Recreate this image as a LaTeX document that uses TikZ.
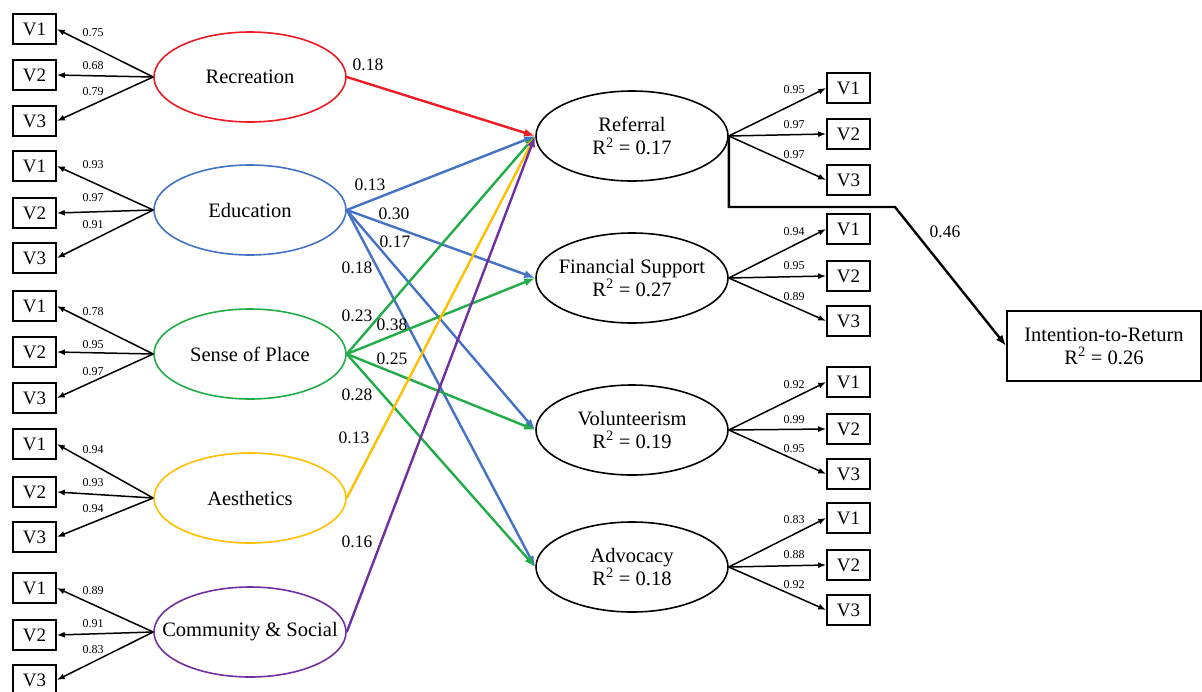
\documentclass[tikz,border=0pt]{standalone}
\usepackage{fontspec}
\setmainfont{Liberation Serif}
\usetikzlibrary{shapes.geometric,arrows.meta}
\definecolor{cred}{RGB}{237,28,36}
\definecolor{cblue}{RGB}{68,114,196}
\definecolor{cgreen}{RGB}{34,172,72}
\definecolor{cyellow}{RGB}{255,192,0}
\definecolor{cpurple}{RGB}{112,48,160}
\begin{document}
\begin{tikzpicture}[x=1pt,y=-1pt,
 lat/.style={ellipse,draw,line width=1.6pt,minimum width=192pt,minimum height=90pt,inner sep=0pt},
 obs/.style={rectangle,draw,line width=1.6pt,minimum width=43pt,minimum height=30pt,inner sep=0pt,font=\fontsize{19}{21}\selectfont},
 load/.style={line width=1.5pt,-{Latex[length=8pt,width=6pt]}},
 struct/.style={line width=2.4pt,-{Latex[length=11pt,width=8pt]}},
 lbl/.style={font=\fontsize{20.5}{23}\selectfont,align=center},
 coef/.style={font=\fontsize{17.5}{20}\selectfont,inner sep=0pt},
 loadlbl/.style={font=\fontsize{12}{14}\selectfont,inner sep=0pt}]
\useasboundingbox (0,0) rectangle (1202,691);
\fill[white] (0,0) rectangle (1202,691);
% left latents
\node[lat,draw=cred,label={[lbl]center:Recreation}] (rec) at (250,77) {};
\node[lat,draw=cblue,label={[lbl]center:Education}] (edu) at (250,210) {};
\node[lat,draw=cgreen,label={[lbl]center:Sense of Place}] (sop) at (250,354) {};
\node[lat,draw=cyellow,label={[lbl]center:Aesthetics}] (aes) at (250,498) {};
\node[lat,draw=cpurple,label={[lbl]center:Community \& Social}] (com) at (250,632) {};
% right latents
\node[lat,label={[lbl]center:Referral\\R\textsuperscript{2} = 0.17}] (ref) at (632,136) {};
\node[lat,label={[lbl]center:Financial Support\\R\textsuperscript{2} = 0.27}] (fin) at (632,278) {};
\node[lat,label={[lbl]center:Volunteerism\\R\textsuperscript{2} = 0.19}] (vol) at (632,430) {};
\node[lat,label={[lbl]center:Advocacy\\R\textsuperscript{2} = 0.18}] (adv) at (632,567) {};
% outcome
\node[draw,line width=1.6pt,minimum width=194pt,minimum height=70pt,inner sep=0pt,lbl] (itr) at (1104,346) {Intention-to-Return\\R\textsuperscript{2} = 0.26};
% left indicators
\foreach \n/\a/\b/\c/\la/\lb/\lc/\ya/\yb/\yc in {
 rec/29/75/121/0.75/0.68/0.79/33/66/92,
 edu/166/213/258/0.93/0.97/0.91/165/198/225,
 sop/306/352/398/0.78/0.95/0.97/312/345/372,
 aes/444/492/537/0.94/0.93/0.94/450/483/509,
 com/588/635/680/0.89/0.91/0.83/591/624/650}{
 \node[obs] (\n1) at (34.5,\a) {V1};
 \node[obs] (\n2) at (34.5,\b) {V2};
 \node[obs] (\n3) at (34.5,\c) {V3};
 \draw[load] (\n.west) -- (\n1.east);
 \draw[load] (\n.west) -- (\n2.east);
 \draw[load] (\n.west) -- (\n3.east);
 \node[loadlbl] (\n l1) at (93,\ya) {\la};
 \node[loadlbl] (\n l2) at (93,\yb) {\lb};
 \node[loadlbl] (\n l3) at (93,\yc) {\lc};
}
% right indicators
\foreach \n/\a/\b/\c/\la/\lb/\lc/\ya/\yb/\yc in {
 ref/88/134/180/0.95/0.97/0.97/90/125/155,
 fin/229/276/321/0.94/0.95/0.89/232/266/297,
 vol/382/429/474/0.92/0.99/0.95/385/420/449,
 adv/518/565/610/0.83/0.88/0.92/520/555/585}{
 \node[obs] (\n1) at (848.5,\a) {V1};
 \node[obs] (\n2) at (848.5,\b) {V2};
 \node[obs] (\n3) at (848.5,\c) {V3};
 \draw[load] (\n.east) -- (\n1.west);
 \draw[load] (\n.east) -- (\n2.west);
 \draw[load] (\n.east) -- (\n3.west);
 \node[loadlbl] (\n l1) at (794,\ya) {\la};
 \node[loadlbl] (\n l2) at (794,\yb) {\lb};
 \node[loadlbl] (\n l3) at (794,\yc) {\lc};
}
% structural paths
\draw[struct,cred] (rec.east) -- (ref.west);
\draw[struct,cblue] (edu.east) -- (ref.west);
\draw[struct,cblue] (edu.east) -- (fin.west);
\draw[struct,cblue] (edu.east) -- (vol.west);
\draw[struct,cblue] (edu.east) -- (adv.west);
\draw[struct,cgreen] (sop.east) -- (ref.west);
\draw[struct,cgreen] (sop.east) -- (fin.west);
\draw[struct,cgreen] (sop.east) -- (vol.west);
\draw[struct,cgreen] (sop.east) -- (adv.west);
\draw[struct,cyellow] (aes.east) -- (ref.west);
\draw[struct,cpurple] (com.east) -- (ref.west);
% referral to intention
\coordinate (k1) at (895,207);
\draw[line width=2.4pt,-{Latex[length=11pt,width=8pt]}] (ref.east) |- (k1) -- (itr.west);
% coefficients
\node[coef] (c1) at (368,65) {0.18};
\node[coef] (c2) at (370,185) {0.13};
\node[coef] (c3) at (394,214) {0.30};
\node[coef] (c4) at (395,242) {0.17};
\node[coef] (c5) at (357,268) {0.18};
\node[coef] (c6) at (357,316) {0.23};
\node[coef] (c7) at (392,325) {0.38};
\node[coef] (c8) at (392,359) {0.25};
\node[coef] (c9) at (357,395) {0.28};
\node[coef] (c10) at (354,438) {0.13};
\node[coef] (c11) at (357,542) {0.16};
\node[coef] (c12) at (945,232) {0.46};
\end{tikzpicture}
\end{document}
